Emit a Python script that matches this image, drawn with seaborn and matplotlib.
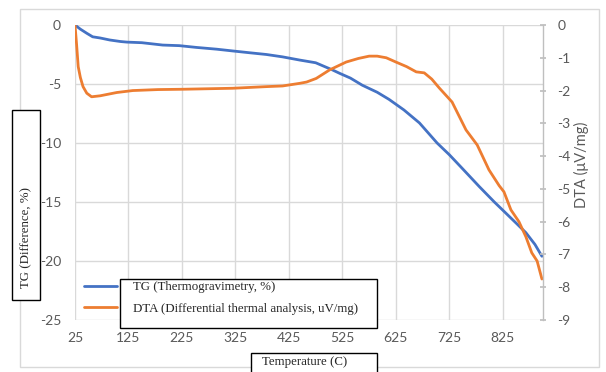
import numpy as np
import pandas as pd
import seaborn as sns
import matplotlib.pyplot as plt
from matplotlib.patches import Rectangle

# ---- data ----
temp_tg = [25, 35, 47, 58, 72, 90, 110, 122, 150, 189, 220, 252, 290, 320, 351, 383,
           413, 445, 475, 506, 520, 540, 562, 590, 612, 640, 669, 702, 725, 750, 781,
           809, 825, 850, 868, 885, 898]
tg = [0, -0.35, -0.7, -1.0, -1.1, -1.27, -1.4, -1.45, -1.5, -1.7, -1.75, -1.9, -2.05,
      -2.2, -2.35, -2.5, -2.7, -2.97, -3.2, -3.8, -4.1, -4.5, -5.1, -5.7, -6.3, -7.2,
      -8.3, -10.0, -11.0, -12.2, -13.7, -15.0, -15.7, -16.8, -17.6, -18.6, -19.6]

temp_dta = [25, 28, 31, 35, 40, 47, 56, 72, 103, 133, 180, 227, 320, 383, 413, 445,
            458, 476, 501, 532, 555, 575, 590, 607, 625, 645, 663, 678, 692, 706, 730,
            756, 777, 799, 818, 827, 840, 855, 868, 879, 889, 898]
dta = [0, -0.6, -1.27, -1.6, -1.88, -2.08, -2.19, -2.16, -2.06, -2.0, -1.97, -1.96,
       -1.93, -1.88, -1.86, -1.78, -1.74, -1.63, -1.37, -1.13, -1.02, -0.95, -0.95,
       -1.0, -1.13, -1.27, -1.43, -1.46, -1.65, -1.92, -2.35, -3.2, -3.66, -4.42,
       -4.9, -5.09, -5.64, -6.0, -6.46, -6.95, -7.2, -7.75]

x_ticks = [25, 125, 225, 325, 425, 525, 625, 725, 825]
left_ticks = [0, -5, -10, -15, -20, -25]
right_ticks = [0, -1, -2, -3, -4, -5, -6, -7, -8, -9]

tg_label = "TG (Thermogravimetry, %)"
dta_label = "DTA (Differential thermal analysis, uV/mg)"

# ---- style ----
sns.set_theme(style="white")
W, H = 606, 372
SERIF = "Liberation Serif"
SANS = "Lato"
GRAY = "#595959"
GRID = "#d9d9d9"
SERIF_SIZE = 9.3

fig = plt.figure(figsize=(W / 100, H / 100), dpi=100)

def fx(px):
    return px / W

def fy(py):
    return 1 - py / H

# outer chart border
fig.patches.append(Rectangle((fx(20), fy(367)), fx(599) - fx(20), fy(9) - fy(367),
                             transform=fig.transFigure, fill=False,
                             edgecolor=GRID, lw=1, zorder=0))

ax = fig.add_axes([fx(75), fy(320), fx(543) - fx(75), fy(25) - fy(320)])
ax.set_facecolor("none")

df_tg = pd.DataFrame({"Temperature": temp_tg, "TG": tg})
df_dta = pd.DataFrame({"Temperature": temp_dta, "DTA": dta})

sns.lineplot(data=df_tg, x="Temperature", y="TG", ax=ax, color="#4472C4",
             lw=2, label=tg_label, legend=False)
ax2 = ax.twinx()
sns.lineplot(data=df_dta, x="Temperature", y="DTA", ax=ax2, color="#ED7D31",
             lw=2, label=dta_label, legend=False)

ax.set_xlim(25, 900)
ax.set_ylim(-25, 0)
ax2.set_ylim(-9, 0)
ax.set_xticks(x_ticks)
ax.set_yticks(left_ticks)
ax2.set_yticks(right_ticks)
ax.set_xticklabels([str(v) for v in x_ticks])
ax.set_yticklabels([str(v) for v in left_ticks])
ax2.set_yticklabels([str(v) for v in right_ticks])

ax.grid(True, color=GRID, lw=1)
ax.set_axisbelow(True)
for s in ax.spines.values():
    s.set_visible(False)
for s in ["left", "top", "bottom"]:
    ax2.spines[s].set_visible(False)
ax2.spines["right"].set_color("#bfbfbf")
ax2.spines["right"].set_linewidth(1)

ax.tick_params(axis="both", length=0, labelsize=10, labelcolor=GRAY)
ax.tick_params(axis="y", pad=10)
ax.tick_params(axis="x", pad=9)
ax2.tick_params(axis="y", length=5, direction="inout", color="#bfbfbf",
                labelsize=10, labelcolor=GRAY, pad=8)
for lab in ax.get_xticklabels() + ax.get_yticklabels() + ax2.get_yticklabels():
    lab.set_family(SANS)

ax.set_xlabel("")
ax.set_ylabel("")
ax2.set_ylabel("")

# right axis label
fig.text(fx(581), fy(165), "DTA (μV/mg)", rotation=90, ha="center", va="center",
         color=GRAY, fontsize=10.5, family=[SANS, "DejaVu Sans"])

# left label box
fig.patches.append(Rectangle((fx(12), fy(300)), fx(40) - fx(12), fy(110) - fy(300),
                             transform=fig.transFigure, facecolor="white",
                             edgecolor="black", lw=1, zorder=5))
fig.text(fx(26), fy(288), "TG (Difference, %)", rotation=90, ha="center",
         va="bottom", fontsize=SERIF_SIZE, family=SERIF, zorder=6)

# x label box
fig.patches.append(Rectangle((fx(251), fy(373)), fx(377) - fx(251), fy(353) - fy(373),
                             transform=fig.transFigure, facecolor="white",
                             edgecolor="black", lw=1, zorder=5))
fig.text(fx(262), fy(362), "Temperature (C)", ha="left", va="center",
         fontsize=SERIF_SIZE, family=SERIF, zorder=6)

# legend
h1, l1 = ax.get_legend_handles_labels()
h2, l2 = ax2.get_legend_handles_labels()
fig.patches.append(Rectangle((fx(120), fy(328)), fx(377) - fx(120), fy(279) - fy(328),
                             transform=fig.transFigure, facecolor="white",
                             edgecolor="black", lw=1, zorder=5))
leg = fig.legend(h1 + h2, l1 + l2, loc="upper left",
                 bbox_to_anchor=(fx(84), fy(281)), frameon=False,
                 borderpad=0, borderaxespad=0, handlelength=2.55,
                 handletextpad=1.25, labelspacing=0.75,
                 prop={"family": SERIF, "size": SERIF_SIZE})
leg.set_zorder(7)

fig.savefig("out.png", dpi=100)
